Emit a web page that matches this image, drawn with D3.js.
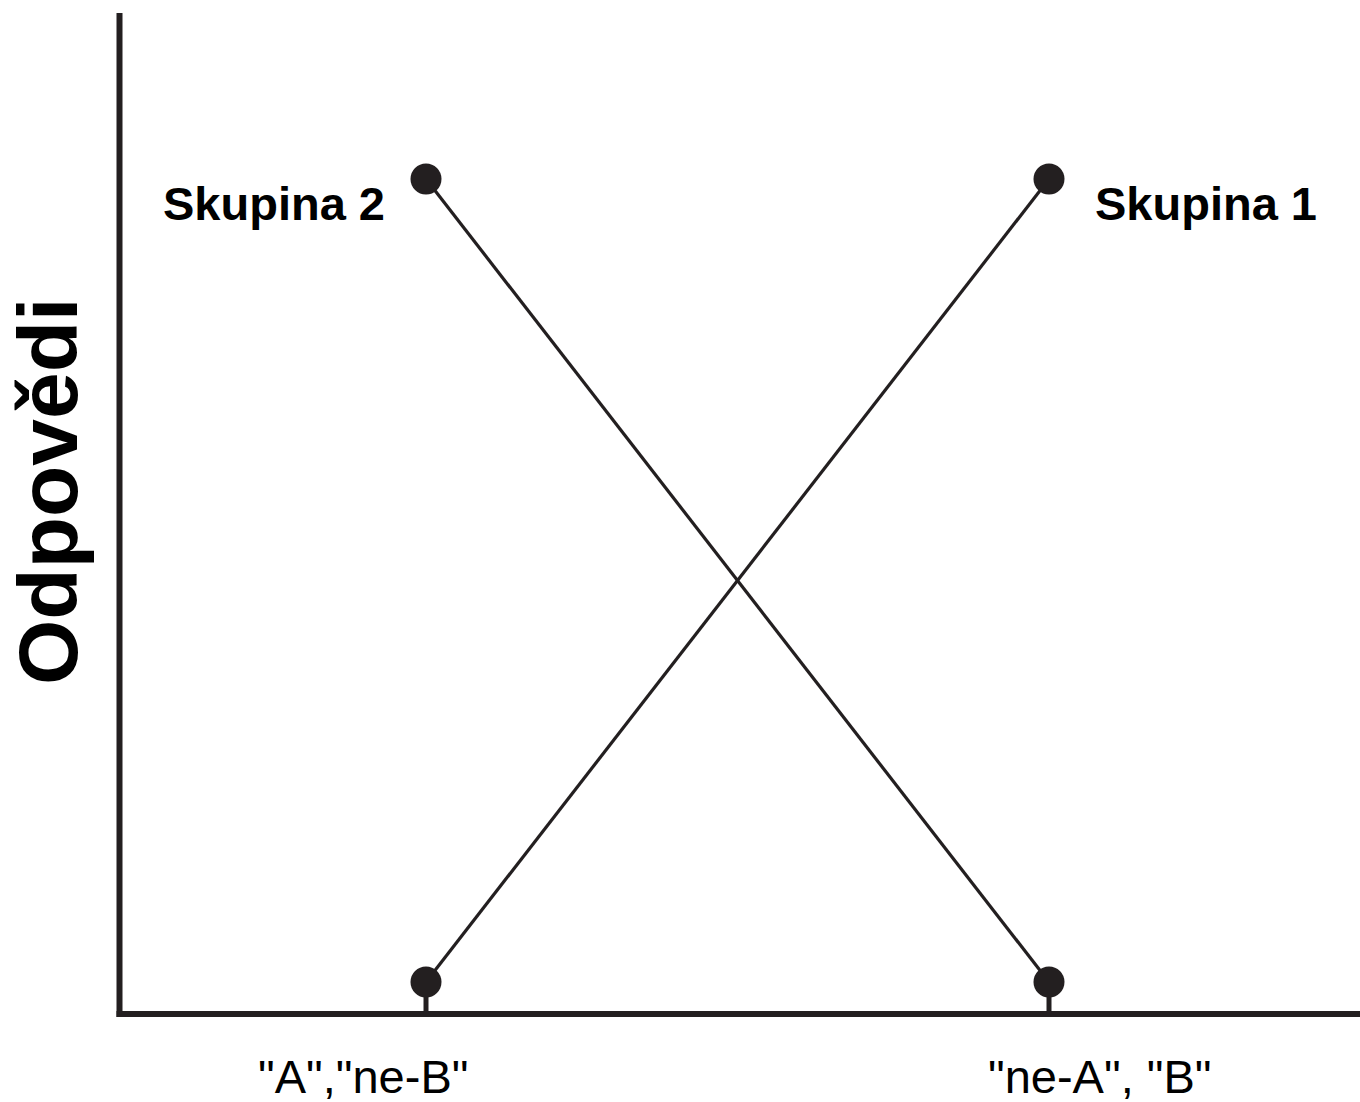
<!DOCTYPE html>
<html>
<head>
<meta charset="utf-8">
<script src="https://cdn.jsdelivr.net/npm/d3@7"></script>
<style>
  html, body { margin: 0; padding: 0; background: #fff; }
  svg { display: block; }
</style>
</head>
<body>
<script>
// ---- data ----
const categories = ['"A","ne-B"', '"ne-A", "B"'];
const seriesNames = ["Skupina 1", "Skupina 2"];
const skupina1 = [0, 1];
const skupina2 = [1, 0];
const yLabel = "Odpovědi";

const W = 1360, H = 1102;
const ink = "#231f20";
const font = "'Liberation Sans', Arial, Helvetica, sans-serif";

const svg = d3.select("body").append("svg")
  .attr("width", W).attr("height", H)
  .style("background", "#fff");

const x = d3.scalePoint().domain(categories).range([426, 1049]);
const y = d3.scaleLinear().domain([0, 1]).range([982, 179]);

const axisY = 1014, axisX = 119.5;

// axes
svg.append("line")
  .attr("x1", axisX).attr("x2", axisX)
  .attr("y1", 13).attr("y2", axisY + 3)
  .attr("stroke", ink).attr("stroke-width", 6);
svg.append("line")
  .attr("x1", axisX - 3).attr("x2", W)
  .attr("y1", axisY).attr("y2", axisY)
  .attr("stroke", ink).attr("stroke-width", 6);

// ticks
svg.selectAll(".tick").data(categories).enter().append("line")
  .attr("x1", d => x(d)).attr("x2", d => x(d))
  .attr("y1", y(0)).attr("y2", axisY)
  .attr("stroke", ink).attr("stroke-width", 5);

// tick labels
const labelOffsets = [-168, -61];
svg.selectAll(".xl").data(categories).enter().append("text")
  .attr("x", (d, i) => x(d) + labelOffsets[i])
  .attr("y", 1093)
  .attr("font-family", font)
  .attr("font-size", 47)
  .attr("fill", "#000")
  .text(d => d);

// lines
const series = [
  { name: seriesNames[0], values: skupina1 },
  { name: seriesNames[1], values: skupina2 }
];
const line = d3.line()
  .x((d, i) => x(categories[i]))
  .y(d => y(d));

svg.selectAll(".series").data(series).enter().append("path")
  .attr("d", d => line(d.values))
  .attr("fill", "none")
  .attr("stroke", ink)
  .attr("stroke-width", 3.2);

// dots
series.forEach(s => {
  svg.selectAll(null).data(s.values).enter().append("circle")
    .attr("cx", (d, i) => x(categories[i]))
    .attr("cy", d => y(d))
    .attr("r", 15.5)
    .attr("fill", ink);
});

// series labels near the high point
series.forEach(s => {
  const iHigh = s.values.indexOf(d3.max(s.values));
  const left = iHigh === 0;
  svg.append("text")
    .attr("x", x(categories[iHigh]) + (left ? -41 : 46))
    .attr("y", y(s.values[iHigh]) + 41)
    .attr("text-anchor", left ? "end" : "start")
    .attr("font-family", font)
    .attr("font-size", 47)
    .attr("font-weight", "bold")
    .attr("fill", "#000")
    .text(s.name);
});

// y-axis label
svg.append("text")
  .attr("transform", "translate(77,685) rotate(-90)")
  .attr("text-anchor", "start")
  .attr("font-family", font)
  .attr("font-size", 84)
  .attr("font-weight", "bold")
  .attr("fill", "#000")
  .text(yLabel);
</script>
</body>
</html>
